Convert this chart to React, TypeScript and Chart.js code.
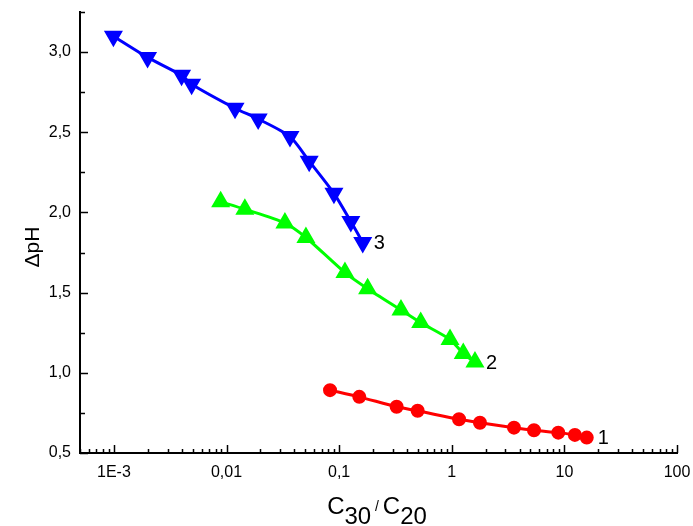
import React, { useEffect, useRef } from 'react';
import { Chart, registerables } from 'chart.js';

Chart.register(...registerables);

// Series 1 (red circles)
const series1X = [0.083, 0.151, 0.324, 0.498, 1.16, 1.78, 3.57, 5.37, 8.83, 12.4, 15.8];
const series1Y = [0.892, 0.85, 0.788, 0.763, 0.71, 0.689, 0.658, 0.642, 0.627, 0.613, 0.596];
// Series 2 (green up-triangles)
const series2X = [0.00887, 0.01455, 0.033, 0.0507, 0.1126, 0.179, 0.354, 0.53, 0.965, 1.265, 1.607];
const series2Y = [2.067, 2.02, 1.934, 1.844, 1.625, 1.525, 1.392, 1.313, 1.208, 1.12, 1.067];
// Series 3 (blue down-triangles)
const series3X = [0.00099, 0.00199, 0.00399, 0.0049, 0.0119, 0.0191, 0.0366, 0.0542, 0.0899, 0.127, 0.162];
const series3Y = [3.099, 2.967, 2.855, 2.8, 2.65, 2.583, 2.473, 2.32, 2.119, 1.943, 1.813];

const seriesNames = ['1', '2', '3'];
const xTickValues = [0.001, 0.01, 0.1, 1, 10, 100];
const xTickLabels = ['1E-3', '0,01', '0,1', '1', '10', '100'];
const yTickValues = [0.5, 1.0, 1.5, 2.0, 2.5, 3.0];

const X_MIN = 0.0005;
const X_MAX = 100;
const Y_MIN = 0.5;
const Y_MAX = 3.25;

const FONT = '"Liberation Sans", Arial, sans-serif';

const zeroPad = (scale: any) => {
  scale.paddingTop = 0;
  scale.paddingBottom = 0;
  scale.paddingLeft = 0;
  scale.paddingRight = 0;
};

const decoPlugin = {
  id: 'deco',
  afterDraw(chart: any) {
    const { ctx, chartArea, scales } = chart;
    const xs = scales.x;
    const ys = scales.y;
    ctx.save();
    ctx.strokeStyle = '#000';
    ctx.lineWidth = 1.5;
    // x ticks (inward)
    for (let e = -4; e <= 2; e++) {
      for (let m = 1; m <= 9; m++) {
        const v = m * Math.pow(10, e);
        if (v < X_MIN * 0.999 || v > X_MAX * 1.001) continue;
        const px = Math.round(xs.getPixelForValue(v)) + 0.5;
        const len = m === 1 ? 8 : 4;
        ctx.beginPath();
        ctx.moveTo(px, chartArea.bottom);
        ctx.lineTo(px, chartArea.bottom - len);
        ctx.stroke();
      }
    }
    // y ticks (inward)
    for (let k = 0; k <= 11; k++) {
      const v = Y_MIN + k * 0.25;
      const py = Math.round(ys.getPixelForValue(v)) + 0.5;
      const len = k % 2 === 0 ? 8 : 5;
      ctx.beginPath();
      ctx.moveTo(chartArea.left, py);
      ctx.lineTo(chartArea.left + len, py);
      ctx.stroke();
    }
    // series labels
    ctx.fillStyle = '#000';
    ctx.font = `20px ${FONT}`;
    ctx.textAlign = 'left';
    ctx.textBaseline = 'middle';
    chart.data.datasets.forEach((ds: any, i: number) => {
      const meta = chart.getDatasetMeta(i);
      const pt = meta.data[meta.data.length - 1];
      ctx.fillText(seriesNames[i], pt.x + 11, pt.y + 1);
    });
    // x title C30 / C20
    const big = `24px ${FONT}`;
    const small = `14px ${FONT}`;
    const parts: [string, string, number][] = [
      ['C', big, 514],
      ['30', big, 524],
      [' / ', small, 511],
      ['C', big, 514],
      ['20', big, 524],
    ];
    ctx.textBaseline = 'alphabetic';
    let total = 0;
    for (const [t, f] of parts) {
      ctx.font = f;
      total += ctx.measureText(t).width;
    }
    let cx = 377 - total / 2;
    for (const [t, f, b] of parts) {
      ctx.font = f;
      ctx.fillText(t, cx, b);
      cx += ctx.measureText(t).width;
    }
    // y title
    ctx.translate(33, 247);
    ctx.rotate(-Math.PI / 2);
    ctx.font = `21px ${FONT}`;
    ctx.textAlign = 'center';
    ctx.textBaseline = 'middle';
    ctx.fillText('\u0394pH', 0, 0);
    ctx.restore();
  },
};

export default function App() {
  const ref = useRef<HTMLCanvasElement>(null);
  useEffect(() => {
    const canvas = ref.current;
    if (!canvas) return;
    const mk = (xs: number[], ys: number[]) => xs.map((x, i) => ({ x, y: ys[i] }));
    const chart = new Chart(canvas, {
      type: 'scatter',
      data: {
        datasets: [
          {
            label: seriesNames[0],
            data: mk(series1X, series1Y),
            showLine: true,
            borderColor: '#ff0000',
            backgroundColor: '#ff0000',
            pointBackgroundColor: '#ff0000',
            pointBorderColor: '#ff0000',
            pointStyle: 'circle',
            pointRadius: 5.5,
            borderWidth: 3,
            tension: 0.25,
          },
          {
            label: seriesNames[1],
            data: mk(series2X, series2Y),
            showLine: true,
            borderColor: '#00ff00',
            backgroundColor: '#00ff00',
            pointBackgroundColor: '#00ff00',
            pointBorderColor: '#00ff00',
            pointStyle: 'triangle',
            pointRadius: 8,
            borderWidth: 3,
            tension: 0.25,
          },
          {
            label: seriesNames[2],
            data: mk(series3X, series3Y),
            showLine: true,
            borderColor: '#0000ff',
            backgroundColor: '#0000ff',
            pointBackgroundColor: '#0000ff',
            pointBorderColor: '#0000ff',
            pointStyle: 'triangle',
            pointRotation: 180,
            pointRadius: 8,
            borderWidth: 3,
            tension: 0.25,
          },
        ],
      },
      options: {
        responsive: false,
        animation: false,
        devicePixelRatio: 1,
        layout: { padding: { top: 12, right: 16, left: 0, bottom: 0 } },
        plugins: {
          legend: { display: false },
          tooltip: { enabled: false },
          title: { display: false },
        },
        scales: {
          x: {
            type: 'logarithmic',
            min: X_MIN,
            max: X_MAX,
            grid: { display: false },
            border: { display: true, color: '#000', width: 2 },
            afterBuildTicks: (scale: any) => {
              scale.ticks = xTickValues.map((v) => ({ value: v }));
            },
            afterFit: (scale: any) => {
              scale.height = 73;
              zeroPad(scale);
            },
            ticks: {
              autoSkip: false,
              maxRotation: 0,
              padding: 2,
              color: '#000',
              font: { family: FONT, size: 16 },
              callback: (v: any) => {
                const i = xTickValues.findIndex((t) => Math.abs(t - Number(v)) / t < 1e-6);
                return i >= 0 ? xTickLabels[i] : '';
              },
            },
          },
          y: {
            type: 'linear',
            min: Y_MIN,
            max: Y_MAX,
            grid: { display: false },
            border: { display: true, color: '#000', width: 2 },
            afterBuildTicks: (scale: any) => {
              scale.ticks = yTickValues.map((v) => ({ value: v }));
            },
            afterFit: (scale: any) => {
              scale.width = 80;
              zeroPad(scale);
            },
            ticks: {
              padding: 1,
              color: '#000',
              font: { family: FONT, size: 16 },
              callback: (v: any) => Number(v).toFixed(1).replace('.', ','),
            },
          },
        },
      },
      plugins: [decoPlugin],
    } as any);
    return () => chart.destroy();
  }, []);
  return (
    <div style={{ position: 'fixed', left: 0, top: 0, width: 693, height: 526, background: '#fff' }}>
      <canvas ref={ref} width={693} height={526} style={{ width: 693, height: 526, display: 'block' }} />
    </div>
  );
}
